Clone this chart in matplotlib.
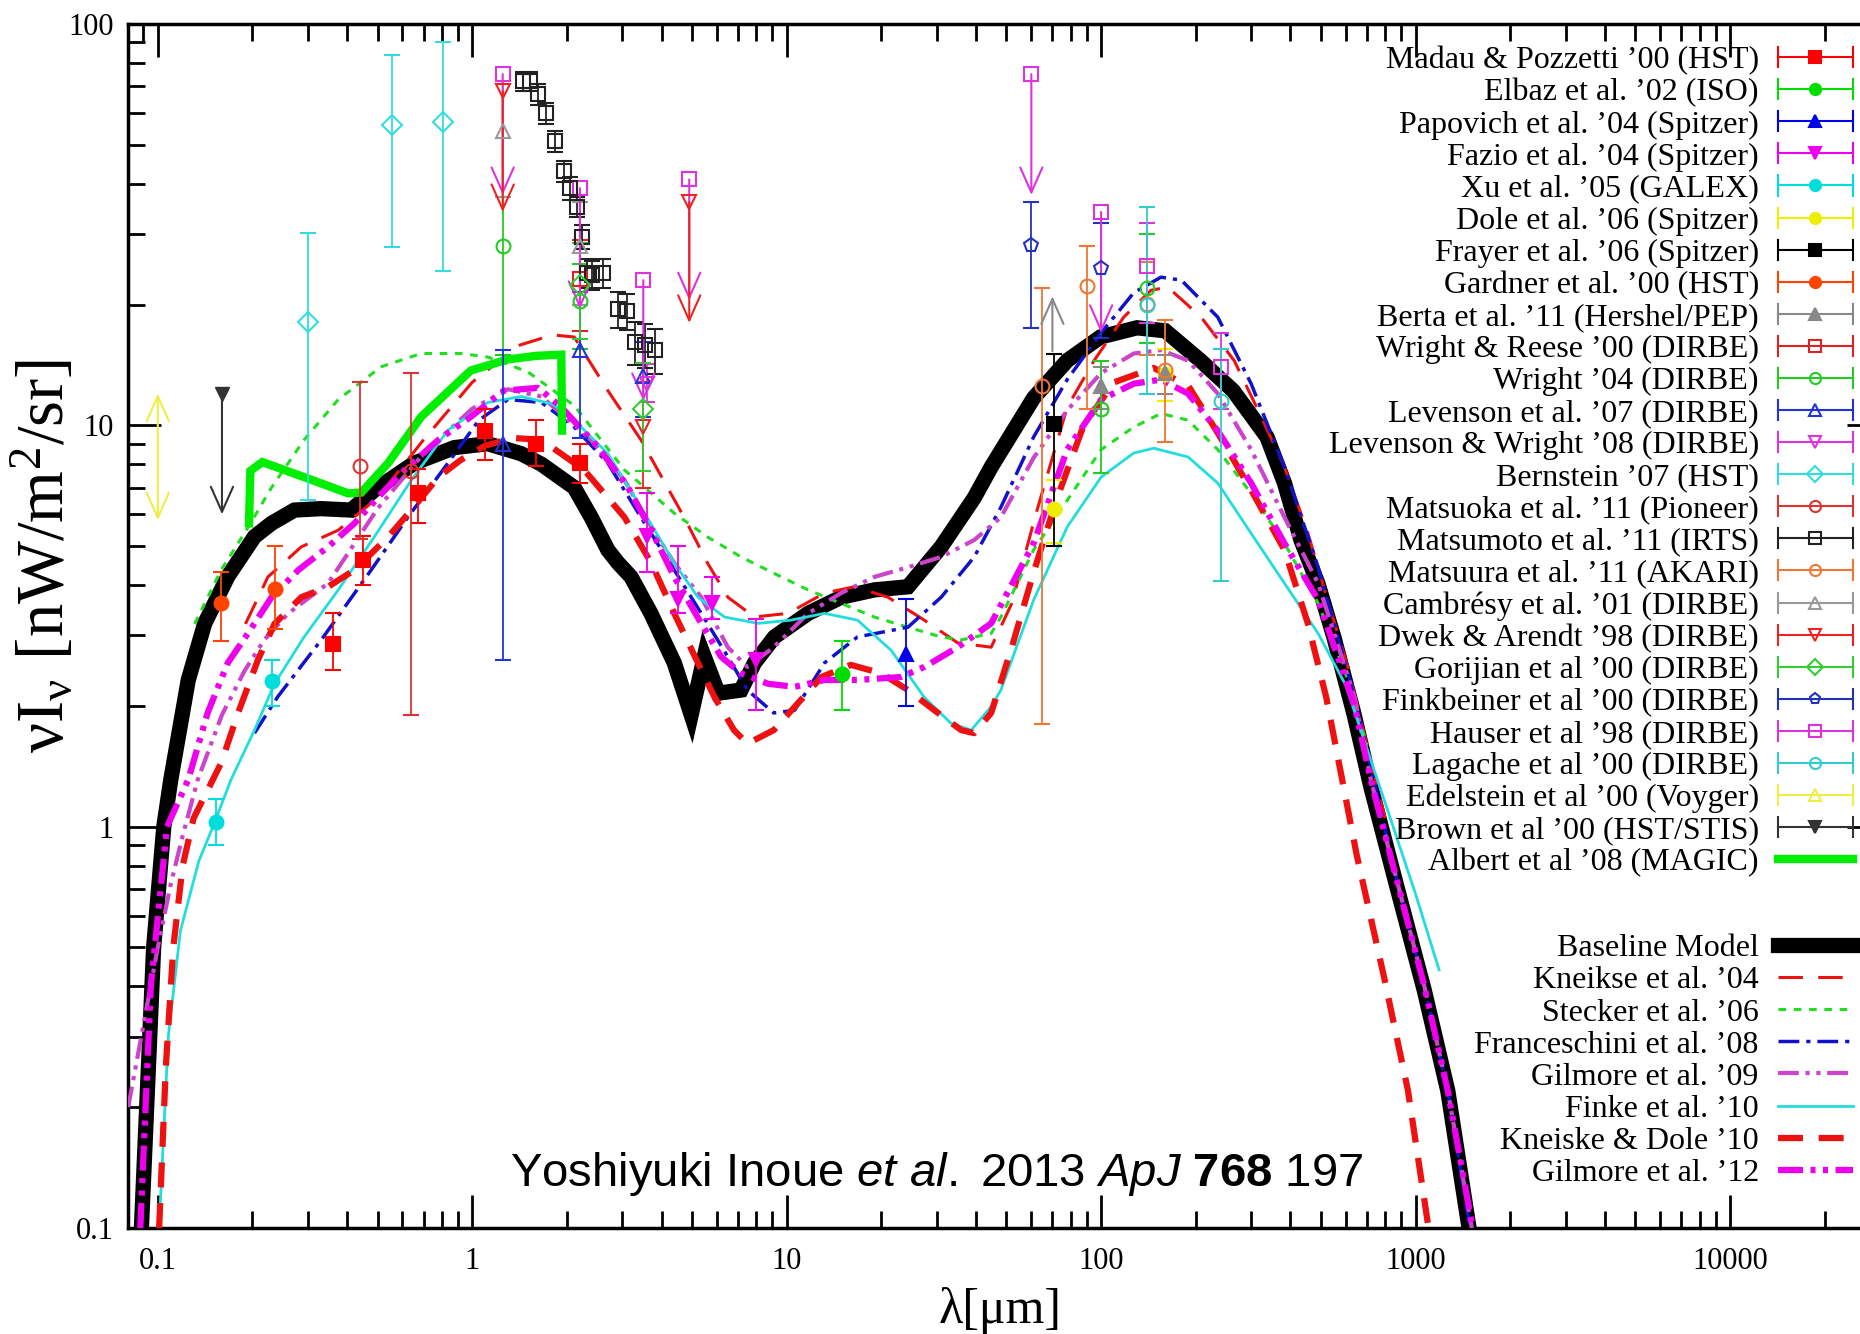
import numpy as np
import matplotlib
matplotlib.use("Agg")
import matplotlib.pyplot as plt
from matplotlib.lines import Line2D
from matplotlib.legend_handler import HandlerBase
from matplotlib.ticker import FixedLocator, LogLocator, FuncFormatter, NullFormatter

plt.rcParams["font.family"] = ["Liberation Serif", "DejaVu Serif"]
plt.rcParams["mathtext.fontset"] = "custom"
plt.rcParams["mathtext.rm"] = "Liberation Sans"
plt.rcParams["mathtext.it"] = "Liberation Sans:italic"
plt.rcParams["mathtext.bf"] = "Liberation Sans:bold"

# ---- model curves (wavelength in um, nuI_nu in nW/m^2/sr) ----
baseline_x = [0.0887, 0.097, 0.1045, 0.110, 0.125, 0.141, 0.167, 0.203, 0.23, 0.272,
              0.331, 0.412, 0.489, 0.654, 0.877, 1.12, 1.43, 1.66, 2.11, 2.39,
              2.70, 2.91, 3.2, 3.7, 4.39, 4.97, 5.47, 6.06, 7.16, 7.9,
              9.15, 11.7, 14.9, 19.0, 24.3, 31.0, 39.5, 44.7, 61.0, 78.0,
              99.5, 130.0, 160.0, 207.0, 263.0, 337.0, 383.0, 432.0, 489.0, 551.0,
              638.0, 722.0, 878.0, 1067.0, 1266.0, 1480.0]
baseline_y = [0.1, 0.5, 1.0, 1.31, 2.32, 3.21, 4.2, 5.28, 5.7, 6.15,
              6.2, 6.15, 6.9, 8.05, 8.8, 9.0, 8.5, 8.0, 7.0, 5.9,
              4.89, 4.54, 4.19, 3.4, 2.56, 1.9, 2.65, 2.15, 2.19, 2.56,
              2.97, 3.4, 3.73, 3.89, 3.96, 4.98, 6.6, 7.87, 11.7, 14.5,
              16.6, 17.5, 17.2, 14.5, 12.2, 9.35, 7.18, 5.18, 4.04, 2.95,
              1.9, 1.25, 0.695, 0.39, 0.22, 0.1]

kneiske04_x = [0.19, 0.224, 0.286, 0.375, 0.5, 0.7, 1.0, 1.4, 1.8, 2.11,
               2.7, 3.44, 4.72, 5.6, 6.5, 7.9, 10.1, 13.2, 16.4, 21.0,
               27.4, 35.0, 44.7, 52.0, 62.0, 78.0, 95.0, 118.0, 144.0, 163.0,
               208.0, 265.0, 323.0, 383.0, 455.0, 525.0, 609.0, 700.0, 800.0]
kneiske04_y = [3.2, 4.19, 4.98, 5.48, 6.6, 9.2, 12.8, 15.8, 16.8, 16.6,
               12.2, 9.2, 5.9, 4.54, 3.73, 3.33, 3.4, 3.82, 3.96, 3.73,
               3.27, 2.87, 2.8, 3.6, 6.0, 11.1, 14.5, 18.6, 21.7, 22.1,
               18.6, 14.5, 10.5, 7.87, 5.38, 3.67, 2.5, 1.6, 1.05]

stecker_x = [0.131, 0.159, 0.194, 0.23, 0.292, 0.375, 0.514, 0.688, 0.92, 1.12,
             1.5, 2.11, 3.05, 4.39, 5.6, 7.16, 9.1, 11.7, 14.9, 19.0,
             24.3, 31.0, 35.9, 44.7, 48.0, 61.0, 78.0, 100.0, 127.0, 155.0,
             189.0, 235.0, 300.0, 383.0, 490.0, 600.0, 700.0]
stecker_y = [3.2, 4.36, 5.58, 7.0, 9.2, 11.6, 14.0, 15.1, 15.1, 14.8,
             13.6, 11.2, 7.74, 6.04, 5.27, 4.7, 4.28, 3.89, 3.6, 3.33,
             3.14, 2.97, 2.92, 3.03, 3.33, 4.89, 6.5, 8.7, 9.9, 10.7,
             10.3, 8.7, 6.77, 5.08, 3.6, 2.4, 1.6]

franceschini_x = [0.203, 0.241, 0.331, 0.477, 0.624, 0.837, 1.05, 1.3, 1.66, 2.11,
                  2.7, 3.44, 4.39, 5.6, 6.5, 7.5, 9.1, 10.6, 13.2, 16.8,
                  24.3, 31.0, 39.5, 48.0, 61.0, 78.0, 100.0, 127.0, 155.0, 180.0,
                  235.0, 300.0, 383.0, 490.0, 623.0, 722.0, 878.0, 1067.0, 1266.0, 1490.0]
franceschini_y = [1.71, 2.11, 2.92, 4.36, 5.9, 8.05, 10.3, 11.6, 11.4, 9.9,
                  8.05, 5.9, 4.36, 3.21, 2.65, 2.19, 1.92, 1.95, 2.56, 2.97,
                  3.14, 3.73, 4.7, 6.25, 9.35, 13.0, 17.0, 21.4, 23.4, 23.0,
                  18.6, 12.7, 7.87, 4.43, 2.27, 1.4, 0.72, 0.4, 0.22, 0.1]

gilmore09_x = [0.0805, 0.09, 0.1, 0.11, 0.12, 0.134, 0.16, 0.189, 0.218, 0.26,
               0.348, 0.5, 0.7, 1.0, 1.3, 1.66, 2.39, 3.05, 3.71, 4.39,
               5.35, 6.5, 7.5, 9.1, 11.7, 14.9, 19.0, 24.3, 31.0, 39.5,
               48.0, 61.0, 78.0, 100.0, 127.0, 155.0, 189.0, 235.0, 300.0, 383.0,
               490.0, 640.0, 722.0, 878.0, 1067.0, 1266.0, 1510.0]
gilmore09_y = [0.2, 0.32, 0.5, 0.72, 0.95, 1.31, 1.9, 2.45, 2.92, 3.4,
               4.04, 6.2, 8.5, 11.0, 12.3, 11.8, 9.2, 7.3, 5.58, 4.54,
               3.73, 2.8, 2.5, 2.8, 3.4, 3.82, 4.19, 4.43, 4.7, 5.18,
               5.9, 8.3, 10.9, 13.5, 15.1, 15.4, 14.5, 12.0, 8.7, 5.9,
               4.04, 2.1, 1.3, 0.72, 0.4, 0.22, 0.1]

finke_x = [0.101, 0.108, 0.118, 0.135, 0.152, 0.171, 0.203, 0.235, 0.292, 0.375,
           0.488, 0.64, 0.838, 1.12, 1.43, 1.8, 2.11, 2.7, 3.44, 4.39,
           5.22, 6.34, 8.1, 10.3, 13.2, 16.8, 21.5, 27.4, 33.3, 38.6,
           44.7, 48.0, 61.0, 78.0, 100.0, 127.0, 147.0, 189.0, 235.0, 300.0,
           383.0, 490.0, 600.0, 777.0, 1000.0, 1188.0]
finke_y = [0.1, 0.3, 0.55, 0.82, 1.03, 1.31, 1.74, 2.27, 2.97, 3.89,
           5.27, 7.3, 9.73, 11.4, 11.8, 11.3, 10.3, 8.5, 6.25, 4.54,
           3.73, 3.33, 3.21, 3.27, 3.4, 3.27, 2.75, 2.1, 1.81, 1.74,
           1.99, 2.19, 3.67, 5.58, 7.43, 8.53, 8.77, 8.34, 7.18, 5.38,
           4.04, 3.03, 2.25, 1.23, 0.68, 0.44]

kd10_x = [0.101, 0.106, 0.112, 0.12, 0.13, 0.159, 0.18, 0.208, 0.235, 0.286,
          0.348, 0.422, 0.54, 0.64, 0.78, 0.92, 1.1, 1.35, 1.66, 2.27,
          3.05, 3.71, 4.39, 5.22, 5.9, 6.8, 7.5, 9.1, 11.1, 12.9,
          16.0, 20.0, 24.3, 29.5, 35.9, 39.5, 44.7, 52.0, 61.0, 72.0,
          88.0, 110.0, 147.0, 190.0, 235.0, 300.0, 383.0, 455.0, 520.0, 580.0,
          650.0, 795.0, 946.0, 1100.0]
kd10_y = [0.1, 0.25, 0.5, 0.8, 1.05, 1.44, 1.92, 2.6, 3.2, 3.73,
          3.96, 4.36, 5.27, 6.15, 7.43, 8.2, 8.9, 9.3, 9.2, 7.74,
          5.9, 4.54, 3.4, 2.56, 2.1, 1.74, 1.61, 1.74, 2.07, 2.36,
          2.53, 2.41, 2.19, 1.95, 1.74, 1.71, 1.92, 2.8, 4.3, 6.5,
          10.0, 12.8, 13.9, 12.5, 9.57, 6.9, 4.89, 3.2, 2.1, 1.35,
          0.85, 0.42, 0.22, 0.1]

gilmore12_x = [0.088, 0.095, 0.107, 0.125, 0.144, 0.167, 0.194, 0.23, 0.28, 0.348,
               0.422, 0.514, 0.608, 0.78, 0.99, 1.26, 1.62, 1.92, 2.51, 3.13,
               3.71, 4.39, 5.35, 6.19, 7.16, 8.73, 10.6, 13.2, 16.8, 23.1,
               27.4, 35.0, 44.7, 61.0, 78.0, 100.0, 127.0, 155.0, 189.0, 235.0,
               300.0, 383.0, 490.0, 640.0, 722.0, 878.0, 1067.0, 1266.0, 1520.0]
gilmore12_y = [0.1, 0.4, 1.0, 1.31, 1.92, 2.56, 3.04, 3.73, 4.36, 4.98,
               5.7, 6.75, 7.72, 9.2, 10.5, 12.2, 12.4, 11.1, 8.83, 7.0,
               5.48, 4.19, 3.21, 2.65, 2.41, 2.27, 2.23, 2.32, 2.32, 2.36,
               2.5, 2.8, 3.21, 5.08, 8.7, 11.6, 12.7, 13.0, 12.0, 9.7,
               7.18, 5.08, 3.67, 2.0, 1.3, 0.72, 0.4, 0.22, 0.1]

albert_x = [0.195, 0.197, 0.215, 0.292, 0.403, 0.444, 0.54, 0.688, 0.99, 1.3, 1.6, 1.92, 1.93]
albert_y = [5.7, 7.7, 8.1, 7.43, 6.77, 6.8, 8.05, 10.5, 13.7, 14.6, 14.9, 15.0, 9.7]

# ---- measurements: x, y, lower end, upper end of the error bar ----
madau_x = [0.36, 0.45, 0.67, 1.1, 1.6, 2.2]
madau_y = [2.86, 4.62, 6.8, 9.7, 9.0, 8.05]
madau_lo = [2.45, 4.0, 5.7, 8.2, 7.9, 7.2]
madau_hi = [3.4, 5.3, 7.8, 11.0, 10.3, 9.0]

elbaz_x, elbaz_y, elbaz_lo, elbaz_hi = [15.0], [2.4], [1.95], [2.9]
papovich_x, papovich_y, papovich_lo, papovich_hi = [24.0], [2.7], [2.0], [3.7]

fazio_x = [3.6, 4.5, 5.8, 8.0]
fazio_y = [5.3, 3.7, 3.6, 2.6]
fazio_lo = [4.3, 3.4, 3.3, 1.95]
fazio_hi = [6.8, 5.0, 4.2, 3.3]

xu_x, xu_y, xu_lo, xu_hi = [0.153, 0.231], [1.03, 2.3], [0.9, 2.0], [1.17, 2.6]
dole_x, dole_y, dole_lo, dole_hi = [71.0, 160.0], [6.2, 13.4], [5.1, 11.5], [7.3, 15.5]
frayer_x, frayer_y, frayer_lo, frayer_hi = [71.0], [10.1], [5.0], [15.1]
gardner_x, gardner_y, gardner_lo, gardner_hi = [0.159, 0.236], [3.6, 3.9], [2.9, 3.1], [4.3, 5.0]
berta_x, berta_y, berta_lo, berta_hi = [100.0, 160.0], [12.5, 13.5], [11.0, 12.0], [14.0, 15.0]
berta_ll_x, berta_ll_y = [70.0], [15.3]
wright_reese_x, wright_reese_y, wright_reese_lo, wright_reese_hi = [2.2], [23.1], [17.2], [29.0]
wright04_x = [1.25, 2.2, 100.0, 140.0]
wright04_y = [28.0, 20.4, 11.0, 22.0]
wright04_lo = [15.0, 15.5, 7.6, 16.0]
wright04_hi = [37.0, 25.3, 14.5, 30.0]
levenson07_x = [1.25, 2.2, 3.5]
levenson07_y = [9.0, 15.4, 13.3]
levenson07_lo = [2.6, 9.3, 10.5]
levenson07_hi = [15.4, 21.5, 16.1]
lw08_x, lw08_y, lw08_lo, lw08_hi = [3.6], [12.7], [11.4], [14.2]
bernstein_x = [0.3, 0.555, 0.81]
bernstein_y = [18.1, 56.0, 57.0]
bernstein_lo = [6.5, 27.8, 24.3]
bernstein_hi = [30.2, 83.7, 90.0]
matsuoka_x, matsuoka_y, matsuoka_lo, matsuoka_hi = [0.44, 0.64], [7.9, 7.7], [5.2, 1.9], [12.8, 13.5]
matsumoto_x = [1.45, 1.53, 1.62, 1.72, 1.84, 1.96, 2.05, 2.15, 2.23, 2.31,
               2.4, 2.6, 2.9, 3.1, 3.3, 3.55, 3.8]
matsumoto_y = [72.0, 72.0, 67.0, 60.0, 51.0, 43.0, 39.0, 35.0, 29.5, 24.0,
               23.7, 24.0, 19.5, 19.3, 16.1, 15.9, 15.4]
matsumoto_err = [4.0, 4.0, 4.0, 3.5, 3.0, 2.5, 2.5, 2.0, 2.0, 2.0,
                 2.0, 2.0, 2.0, 2.0, 2.0, 2.0, 2.0]
matsuura_x = [65.0, 90.0, 140.0, 160.0]
matsuura_y = [12.5, 22.3, 20.1, 13.7]
matsuura_lo = [1.8, 11.0, 15.0, 9.1]
matsuura_hi = [22.0, 28.0, 25.5, 18.3]
cambresy_x, cambresy_y, cambresy_lo, cambresy_hi = [1.25, 2.2], [54.0, 28.0], [37.0, 20.0], [71.0, 36.0]
dwek_x, dwek_y, dwek_lo, dwek_hi = [3.5], [9.9], [7.0], [12.8]
dwek_ul_x, dwek_ul_y = [1.25, 4.9], [68.0, 36.0]
gorjian_x, gorjian_y, gorjian_lo, gorjian_hi = [2.2, 3.5], [22.4, 11.0], [16.4, 7.7], [28.4, 14.3]
finkbeiner_x, finkbeiner_y, finkbeiner_lo, finkbeiner_hi = [60.0, 100.0], [28.1, 24.6], [17.5, 16.5], [36.0, 32.0]
hauser_x, hauser_y, hauser_lo, hauser_hi = [140.0, 240.0], [25.0, 14.0], [18.0, 11.0], [32.0, 17.0]
hauser_ul_x = [1.25, 2.2, 3.5, 4.9, 60.0, 100.0]
hauser_ul_y = [75.0, 39.0, 23.0, 41.0, 75.0, 34.0]
lagache_x, lagache_y, lagache_lo, lagache_hi = [140.0, 240.0], [20.0, 11.5], [12.0, 4.1], [35.0, 15.5]
edelstein_x, edelstein_lo, edelstein_hi = [0.1], [5.8], [12.0]
brown_ul_x, brown_ul_y = [0.16], [12.0]

x_ticks = [0.1, 1, 10, 100, 1000, 10000]
y_ticks = [0.1, 1, 10, 100]

limit_drop = 0.5  # arrow tip of upper limits at value * limit_drop

fig = plt.figure(figsize=(18.6, 13.34), dpi=100)
# axes run past the right edge of the figure, as in the cropped original
ax = fig.add_axes([128 / 1860, 1 - 1228 / 1334, 1752 / 1860, 1204 / 1334])
ax.set_xscale("log")
ax.set_yscale("log")
ax.set_xlim(0.0804, 3e4)
ax.set_ylim(0.1, 100)

# models
ax.plot(baseline_x, baseline_y, color="black", lw=11, solid_joinstyle="miter", zorder=3)
ax.plot(kneiske04_x, kneiske04_y, color="#ee1111", lw=2.2, dashes=(8, 5), zorder=4)
ax.plot(stecker_x, stecker_y, color="#22dd22", lw=2.2, dashes=(2.5, 2.5), zorder=4)
ax.plot(franceschini_x, franceschini_y, color="#1111cc", lw=2.5, dashes=(6, 2, 1.2, 2), zorder=4)
ax.plot(gilmore09_x, gilmore09_y, color="#cc44cc", lw=3, dashes=(5, 1.6, 1, 1.6, 1, 1.6), zorder=4)
ax.plot(finke_x, finke_y, color="#22dddd", lw=2, zorder=4)
ax.plot(kd10_x, kd10_y, color="#ee1111", lw=4.5, dashes=(4, 2.5), zorder=4)
ax.plot(gilmore12_x, gilmore12_y, color="#ee00ee", lw=4.5, dashes=(4, 1.2, 0.8, 1.2, 0.8, 1.2), zorder=4)
ax.plot(albert_x, albert_y, color="#00ee00", lw=6, solid_joinstyle="miter", zorder=4)

# measurements: label, colour, marker, filled, x, y, lo, hi
datasets = [
    ("Madau & Pozzetti ’00 (HST)", "#ff0000", "s", True, madau_x, madau_y, madau_lo, madau_hi),
    ("Elbaz et al. ’02 (ISO)", "#00dd00", "o", True, elbaz_x, elbaz_y, elbaz_lo, elbaz_hi),
    ("Papovich et al. ’04 (Spitzer)", "#0000ee", "^", True, papovich_x, papovich_y, papovich_lo, papovich_hi),
    ("Fazio et al. ’04 (Spitzer)", "#ee00ee", "v", True, fazio_x, fazio_y, fazio_lo, fazio_hi),
    ("Xu et al. ’05 (GALEX)", "#00dddd", "o", True, xu_x, xu_y, xu_lo, xu_hi),
    ("Dole et al. ’06 (Spitzer)", "#eeee00", "o", True, dole_x, dole_y, dole_lo, dole_hi),
    ("Frayer et al. ’06 (Spitzer)", "#000000", "s", True, frayer_x, frayer_y, frayer_lo, frayer_hi),
    ("Gardner et al. ’00 (HST)", "#ff4400", "o", True, gardner_x, gardner_y, gardner_lo, gardner_hi),
    ("Berta et al. ’11 (Hershel/PEP)", "#888888", "^", True, berta_x, berta_y, berta_lo, berta_hi),
    ("Wright & Reese ’00 (DIRBE)", "#dd2222", "s", False, wright_reese_x, wright_reese_y, wright_reese_lo, wright_reese_hi),
    ("Wright ’04 (DIRBE)", "#22cc22", "o", False, wright04_x, wright04_y, wright04_lo, wright04_hi),
    ("Levenson et al. ’07 (DIRBE)", "#2233dd", "^", False, levenson07_x, levenson07_y, levenson07_lo, levenson07_hi),
    ("Levenson & Wright ’08 (DIRBE)", "#dd33dd", "v", False, lw08_x, lw08_y, lw08_lo, lw08_hi),
    ("Bernstein ’07 (HST)", "#33dddd", "D", False, bernstein_x, bernstein_y, bernstein_lo, bernstein_hi),
    ("Matsuoka et al. ’11 (Pioneer)", "#dd3333", "o", False, matsuoka_x, matsuoka_y, matsuoka_lo, matsuoka_hi),
    ("Matsumoto et al. ’11 (IRTS)", "#222222", "s", False, matsumoto_x, matsumoto_y,
     list(np.subtract(matsumoto_y, matsumoto_err)), list(np.add(matsumoto_y, matsumoto_err))),
    ("Matsuura et al. ’11 (AKARI)", "#ee7733", "o", False, matsuura_x, matsuura_y, matsuura_lo, matsuura_hi),
    ("Cambrésy et al. ’01 (DIRBE)", "#999999", "^", False, cambresy_x, cambresy_y, cambresy_lo, cambresy_hi),
    ("Dwek & Arendt ’98 (DIRBE)", "#ee2222", "v", False, dwek_x, dwek_y, dwek_lo, dwek_hi),
    ("Gorijian et al ’00 (DIRBE)", "#33cc33", "D", False, gorjian_x, gorjian_y, gorjian_lo, gorjian_hi),
    ("Finkbeiner et al ’00 (DIRBE)", "#2233bb", "p", False, finkbeiner_x, finkbeiner_y, finkbeiner_lo, finkbeiner_hi),
    ("Hauser et al ’98 (DIRBE)", "#dd33dd", "s", False, hauser_x, hauser_y, hauser_lo, hauser_hi),
    ("Lagache et al ’00 (DIRBE)", "#33cccc", "o", False, lagache_x, lagache_y, lagache_lo, lagache_hi),
    ("Edelstein et al ’00 (Voyger)", "#eeee44", "^", False, [], [], [], []),
    ("Brown et al ’00 (HST/STIS)", "#333333", "v", True, [], [], [], []),
]

for label, col, mk, filled, xs, ys, lo, hi in datasets:
    if not xs:
        continue
    ys = np.array(ys)
    err = [ys - np.array(lo), np.array(hi) - ys]
    ax.errorbar(xs, ys, yerr=err, fmt=mk, color=col, mec=col,
                mfc=col if filled else "none", ms=10, mew=1.5,
                elinewidth=1.3, capsize=6, capthick=1.3, zorder=5)


def limit_arrow(x, y0, y1, col, style="->"):
    ax.annotate("", xy=(x, y1), xytext=(x, y0),
                arrowprops=dict(arrowstyle=style + ",head_length=0.9,head_width=0.4",
                                color=col, lw=1.5, mutation_scale=20,
                                shrinkA=0, shrinkB=0), zorder=5)


for x, y in zip(hauser_ul_x, hauser_ul_y):
    ax.plot([x], [y], "s", mfc="none", mec="#dd33dd", ms=10, mew=1.5, zorder=5)
    limit_arrow(x, y, y * limit_drop, "#dd33dd")
for x, y in zip(dwek_ul_x, dwek_ul_y):
    ax.plot([x], [y], "v", mfc="none", mec="#ee2222", ms=10, mew=1.5, zorder=5)
    limit_arrow(x, y, y * limit_drop, "#ee2222")
for x, y in zip(brown_ul_x, brown_ul_y):
    ax.plot([x], [y], "v", color="#333333", ms=10, zorder=5)
    limit_arrow(x, y, y * limit_drop, "#333333")
for x, y in zip(berta_ll_x, berta_ll_y):
    limit_arrow(x, y, y / 0.73, "#888888")
for x, lo, hi in zip(edelstein_x, edelstein_lo, edelstein_hi):
    limit_arrow(x, lo, hi, "#eeee44", style="<->")

# axes styling
ax.xaxis.set_major_locator(FixedLocator(x_ticks))
ax.xaxis.set_minor_locator(LogLocator(base=10, subs=np.arange(2, 10), numticks=100))
ax.yaxis.set_major_locator(FixedLocator(y_ticks))
ax.yaxis.set_minor_locator(LogLocator(base=10, subs=np.arange(2, 10), numticks=100))
fmt = FuncFormatter(lambda v, p: f"{v:g}")
ax.xaxis.set_major_formatter(fmt)
ax.yaxis.set_major_formatter(fmt)
ax.xaxis.set_minor_formatter(NullFormatter())
ax.yaxis.set_minor_formatter(NullFormatter())
ax.tick_params(which="major", direction="in", length=24, width=2, top=True, right=True, labelsize=22)
ax.tick_params(which="minor", direction="in", length=12, width=2, top=True, right=True)
ax.tick_params(axis="x", pad=14)
ax.tick_params(axis="y", pad=10)
for sp in ax.spines.values():
    sp.set_linewidth(2.5)

fig.text(44 / 1860, 1 - 556 / 1334, r"$\mathregular{\nu I_\nu\ [nW/m^2/sr]}$",
         rotation=90, ha="center", va="center", fontsize=48)
fig.text(1000 / 1860, 1 - 1311 / 1334, "λ[μm]", ha="center", va="center", fontsize=36)
fig.text(510 / 1860, 1 - 1186 / 1334,
         r"Yoshiyuki Inoue $\mathit{et}$ $\mathit{al.}$ 2013 $\mathit{ApJ}$ $\mathbf{768}$ 197",
         family="Liberation Sans", fontsize=34, va="baseline")


# legend with capped error bar samples
class DataProxy(Line2D):
    pass


class HandlerCapped(HandlerBase):
    def create_artists(self, legend, orig, xdescent, ydescent, width, height, fontsize, trans):
        y = height / 2 - ydescent
        x0, x1 = -xdescent, -xdescent + width
        col = orig.get_color()
        cap = height * 0.45
        arts = [Line2D([x0, x1], [y, y], color=col, lw=1.5)]
        arts += [Line2D([x, x], [y - cap, y + cap], color=col, lw=1.5) for x in (x0, x1)]
        arts.append(Line2D([(x0 + x1) / 2], [y], ls="none", marker=orig.get_marker(),
                           ms=orig.get_markersize(), mec=col, mfc=orig.get_markerfacecolor(),
                           mew=1.5))
        for a in arts:
            a.set_transform(trans)
        return arts


handles, labels = [], []
for label, col, mk, filled, *_ in datasets:
    handles.append(DataProxy([], [], color=col, marker=mk, ms=8, mfc=col if filled else "none"))
    labels.append(label)
handles.append(Line2D([], [], color="#00ee00", lw=6))
labels.append("Albert et al ’08 (MAGIC)")

leg_kw = dict(loc="upper right", bbox_transform=fig.transFigure, frameon=False,
              fontsize=23, markerfirst=False, borderpad=0, borderaxespad=0,
              handlelength=2.35, handletextpad=0.6, labelspacing=0.085)
leg1 = ax.legend(handles, labels, bbox_to_anchor=(1853 / 1860, 1 - 46 / 1334),
                 handler_map={DataProxy: HandlerCapped()}, **leg_kw)
ax.add_artist(leg1)

model_handles = [
    Line2D([], [], color="black", lw=11),
    Line2D([], [], color="#ee1111", lw=2.2, dashes=(8, 5)),
    Line2D([], [], color="#22dd22", lw=2.2, dashes=(2.5, 2.5)),
    Line2D([], [], color="#1111cc", lw=2.5, dashes=(6, 2, 1.2, 2)),
    Line2D([], [], color="#cc44cc", lw=3, dashes=(5, 1.6, 1, 1.6, 1, 1.6)),
    Line2D([], [], color="#22dddd", lw=2),
    Line2D([], [], color="#ee1111", lw=4.5, dashes=(4, 2.5)),
    Line2D([], [], color="#ee00ee", lw=4.5, dashes=(4, 1.2, 0.8, 1.2, 0.8, 1.2)),
]
model_labels = ["Baseline Model", "Kneikse et al. ’04", "Stecker et al. ’06",
                "Franceschini et al. ’08", "Gilmore et al. ’09", "Finke et al. ’10",
                "Kneiske & Dole ’10", "Gilmore et al. ’12"]
ax.legend(model_handles, model_labels, bbox_to_anchor=(1853 / 1860, 1 - 934 / 1334), **leg_kw)

fig.savefig("out.png", dpi=100)
